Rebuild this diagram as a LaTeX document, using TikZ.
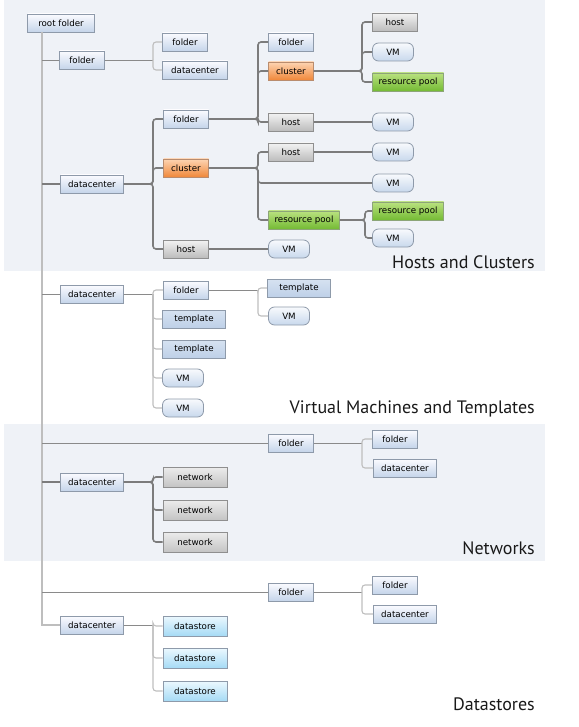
\documentclass[tikz,border=0pt]{standalone}
\usepackage{fontspec}
\setmainfont{DejaVu Sans}
\newfontfamily\titlefont{PT Sans}
\usepackage{tikz}

\definecolor{bandbg}{HTML}{EFF2F7}
\definecolor{linedark}{HTML}{7C7C7C}
\definecolor{linemid}{HTML}{8A8A8A}
\definecolor{linelight}{HTML}{BEBEBE}
\definecolor{edgeblue}{HTML}{8E9AAA}
\definecolor{edgegray}{HTML}{8F8F8F}

\tikzset{
	obj/.style={draw=edgeblue, line width=0.8pt, minimum height=18pt, inner xsep=2pt, inner ysep=0pt,
		font=\fontsize{8.7}{10}\selectfont, text=black},
	fold/.style={obj, top color=white!60!blue!4, bottom color={rgb,255:red,197;green,213;blue,234}, minimum width=45pt},
	dc/.style={fold, minimum width=63pt},
	tmpl/.style={obj, top color={rgb,255:red,214;green,226;blue,241}, bottom color={rgb,255:red,190;green,208;blue,232}, minimum width=63pt},
	vm/.style={obj, rounded corners=6pt, top color={rgb,255:red,248;green,250;blue,253}, bottom color={rgb,255:red,200;green,216;blue,236}, minimum width=41pt},
	hostbox/.style={obj, draw=edgegray, top color={rgb,255:red,243;green,243;blue,243}, bottom color={rgb,255:red,188;green,188;blue,188}, minimum width=45pt},
	clusterbox/.style={obj, draw={rgb,255:red,185;green,140;blue,110}, top color={rgb,255:red,253;green,212;blue,178}, bottom color={rgb,255:red,240;green,136;blue,58}, minimum width=45pt},
	poolbox/.style={obj, draw={rgb,255:red,140;green,165;blue,120}, top color={rgb,255:red,186;green,225;blue,128}, bottom color={rgb,255:red,116;green,187;blue,52}, minimum width=71pt},
	netbox/.style={hostbox, minimum width=64pt, minimum height=20pt, top color={rgb,255:red,236;green,236;blue,236}, bottom color={rgb,255:red,196;green,196;blue,196}},
	storebox/.style={obj, minimum width=64pt, minimum height=20pt, top color={rgb,255:red,236;green,248;blue,254}, bottom color={rgb,255:red,165;green,218;blue,245}},
	conn/.style={draw=linedark, line width=1.6pt, rounded corners=3pt},
	thinconn/.style={draw=linemid, line width=0.9pt, rounded corners=3pt},
	lightconn/.style={draw=linelight, line width=1.1pt, rounded corners=3pt},
	title/.style={font=\titlefont\fontsize{18}{20}\selectfont, text=black!90, anchor=east, inner sep=0pt}
}

\begin{document}
\begin{tikzpicture}[x=1pt, y=-1pt]
	\useasboundingbox (0,0) rectangle (578,727);
	% shaded bands
	\fill[bandbg] (4,0) rectangle (545,271);
	\fill[bandbg] (4,424) rectangle (545,561);

	% section titles
	\node[title] (tHC) at (535,262) {Hosts and Clusters};
	\node[title] (tVM) at (535,409) {Virtual Machines and Templates};
	\node[title] (tNW) at (535,548) {Networks};
	\node[title] (tDS) at (535,704) {Datastores};

	% root and first level
	\node[fold, minimum width=67pt] (root) at (61,23) {root folder};
	\node[fold] (f1) at (82,60) {folder};
	\node[dc] (dc1) at (92,184) {datacenter};
	\node[dc] (dc2) at (92,294) {datacenter};
	\node[fold] (f5) at (291,443) {folder};
	\node[dc] (dc3) at (92,482) {datacenter};
	\node[fold] (f7) at (291,592) {folder};
	\node[dc] (dc4) at (92,625) {datacenter};

	% hosts and clusters
	\node[fold] (f1a) at (185,42) {folder};
	\node[dc, minimum width=65pt] (f1b) at (195,70) {datacenter};
	\node[fold] (f2) at (186,119) {folder};
	\node[clusterbox] (cl1) at (186,168) {cluster};
	\node[hostbox] (h1) at (186,249) {host};
	\node[fold] (f3) at (291,42) {folder};
	\node[clusterbox] (cl2) at (291,71) {cluster};
	\node[hostbox] (h2) at (291,122) {host};
	\node[hostbox] (h3) at (395,22) {host};
	\node[vm] (vm1) at (393,52) {VM};
	\node[poolbox] (rp1) at (408,82) {resource pool};
	\node[vm] (vm2) at (393,122) {VM};
	\node[hostbox] (h4) at (291,152) {host};
	\node[vm] (vm3) at (393,152) {VM};
	\node[vm] (vm4) at (393,183) {VM};
	\node[poolbox] (rp2) at (304,220) {resource pool};
	\node[poolbox] (rp3) at (408,211) {resource pool};
	\node[vm] (vm5) at (393,238) {VM};
	\node[vm] (vm6) at (289,249) {VM};

	% virtual machines and templates
	\node[fold] (f4) at (186,290) {folder};
	\node[tmpl] (t1) at (194,319) {template};
	\node[tmpl] (t2) at (194,349) {template};
	\node[vm] (vm7) at (183,378) {VM};
	\node[vm] (vm8) at (183,408) {VM};
	\node[tmpl] (t3) at (299,288) {template};
	\node[vm] (vm9) at (289,316) {VM};

	% networks
	\node[fold] (f6) at (395,439) {folder};
	\node[dc] (dc5) at (405,468) {datacenter};
	\node[netbox] (n1) at (195,477) {network};
	\node[netbox] (n2) at (195,510) {network};
	\node[netbox] (n3) at (195,542) {network};

	% datastores
	\node[fold] (f8) at (395,585) {folder};
	\node[dc] (dc6) at (405,614) {datacenter};
	\node[storebox] (ds1) at (195,626) {datastore};
	\node[storebox] (ds2) at (195,658) {datastore};
	\node[storebox] (ds3) at (195,691) {datastore};

	% branch points
	\coordinate (trunk) at (42,32);
	\coordinate (bA) at (153,0);
	\coordinate (bB) at (258,0);
	\coordinate (bC) at (362,0);
	\coordinate (bD) at (365,0);

	% trunk
	\draw[draw=linelight, line width=1.3pt] (trunk) |- (dc4.west);
	\foreach \c in {f1,dc2,f5,f7}
		\draw[thinconn] (trunk |- \c.west) -- (\c.west);
	\foreach \c in {dc1,dc3}
		\draw[conn] (trunk |- \c.west) -- (\c.west);

	% thick branches
	\foreach \c in {f2,cl1,h1}
		\draw[conn] (dc1.east) -| (bA |- \c.west) -- (\c.west);
	\foreach \c in {f3,cl2,h2}
		\draw[conn] (f2.east) -| (bB |- \c.west) -- (\c.west);
	\foreach \c in {h3,vm1,rp1}
		\draw[conn] (cl2.east) -| (bC |- \c.west) -- (\c.west);
	\foreach \c in {h4,vm4,rp2}
		\draw[conn] (cl1.east) -| (bB |- \c.west) -- (\c.west);
	\foreach \c in {rp3,vm5}
		\draw[conn] (rp2.east) -| (bD |- \c.west) -- (\c.west);
	\foreach \c in {n1,n2,n3}
		\draw[conn] (dc3.east) -| (bA |- \c.west) -- (\c.west);
	\draw[conn] (h2) -- (vm2);
	\draw[conn] (h4) -- (vm3);
	\draw[conn] (h1) -- (vm6);

	% thin branches
	\draw[thinconn] (f1.east) -- (bA |- f1.east);
	\foreach \c in {f1a,f1b}
		\draw[lightconn] (bA |- f1.east) |- (\c.west);
	\draw[thinconn] (dc2.east) -- (bA |- dc2.east);
	\foreach \c in {f4,t1,t2,vm7,vm8}
		\draw[lightconn] (bA |- dc2.east) |- (\c.west);
	\draw[thinconn] (f4.east) -- (bB |- f4.east);
	\foreach \c in {t3,vm9}
		\draw[lightconn] (bB |- f4.east) |- (\c.west);
	\draw[thinconn] (f5.east) -- (bC |- f5.east);
	\foreach \c in {f6,dc5}
		\draw[lightconn] (bC |- f5.east) |- (\c.west);
	\draw[thinconn] (f7.east) -- (bC |- f7.east);
	\foreach \c in {f8,dc6}
		\draw[lightconn] (bC |- f7.east) |- (\c.west);
	\draw[thinconn] (dc4.east) -- (bA |- dc4.east);
	\foreach \c in {ds1,ds2,ds3}
		\draw[lightconn] (bA |- dc4.east) |- (\c.west);
\end{tikzpicture}
\end{document}
